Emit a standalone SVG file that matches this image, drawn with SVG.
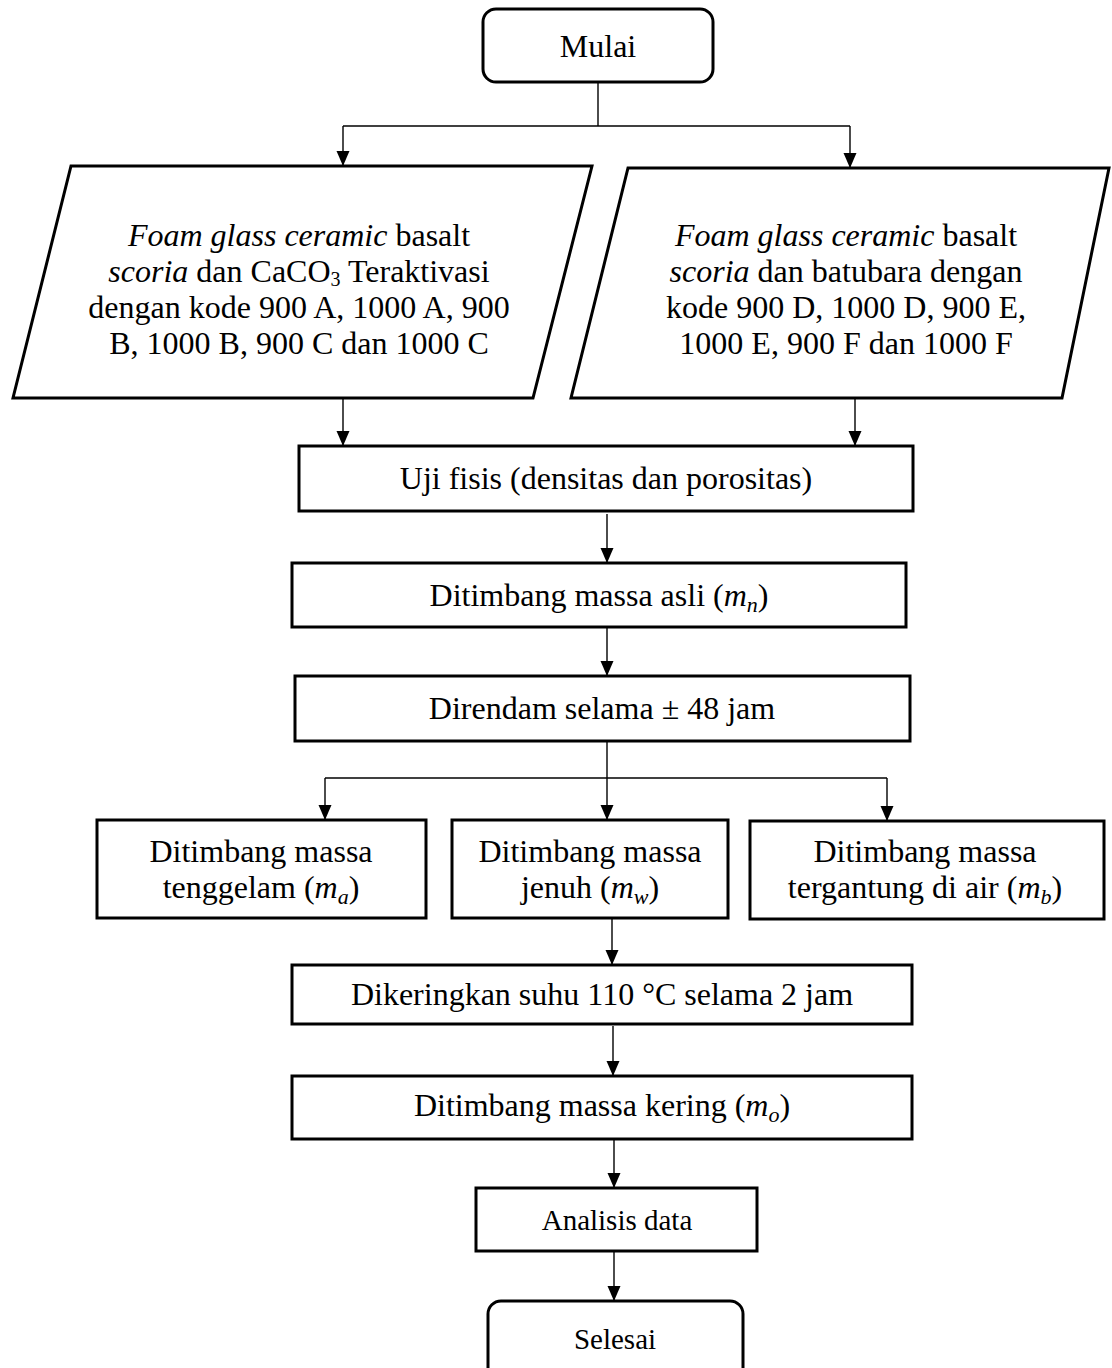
<svg xmlns="http://www.w3.org/2000/svg" width="1112" height="1368" viewBox="0 0 1112 1368">
<style>
  .shape { fill: #ffffff; stroke: #000000; stroke-width: 3; }
  .conn { fill: none; stroke: #000000; stroke-width: 1.4; }
  .t { font-family: "Liberation Serif", "Times New Roman", serif; font-size: 32px; fill: #000000; text-anchor: middle; }
  .ts { font-family: "Liberation Serif", "Times New Roman", serif; font-size: 29px; fill: #000000; text-anchor: middle; }
  .i { font-style: italic; }
</style>
<defs>
  <marker id="arrow" markerUnits="userSpaceOnUse" markerWidth="16" markerHeight="14" refX="15" refY="6.5" orient="auto">
    <path d="M0,0 L15,6.5 L0,13 z" fill="#000000"/>
  </marker>
</defs>
<rect width="1112" height="1368" fill="#ffffff"/>

<g id="connectors">
  <path class="conn" d="M598,82 V126"/>
  <path class="conn" d="M343,126 H850"/>
  <path class="conn" d="M343,126 V166" marker-end="url(#arrow)"/>
  <path class="conn" d="M850,126 V168" marker-end="url(#arrow)"/>
  <path class="conn" d="M343,398 V446" marker-end="url(#arrow)"/>
  <path class="conn" d="M855,398 V446" marker-end="url(#arrow)"/>
  <path class="conn" d="M607,514 V563" marker-end="url(#arrow)"/>
  <path class="conn" d="M607,627 V676" marker-end="url(#arrow)"/>
  <path class="conn" d="M607,741 V820" marker-end="url(#arrow)"/>
  <path class="conn" d="M325,778 H887"/>
  <path class="conn" d="M325,778 V820" marker-end="url(#arrow)"/>
  <path class="conn" d="M887,778 V821" marker-end="url(#arrow)"/>
  <path class="conn" d="M612,918 V965" marker-end="url(#arrow)"/>
  <path class="conn" d="M613,1026 V1076" marker-end="url(#arrow)"/>
  <path class="conn" d="M614,1139 V1188" marker-end="url(#arrow)"/>
  <path class="conn" d="M614,1251 V1301" marker-end="url(#arrow)"/>
</g>

<g id="mulai">
  <rect class="shape" x="483" y="9" width="230" height="73" rx="13"/>
  <text class="t" x="598" y="57">Mulai</text>
</g>

<g id="input-a">
  <polygon class="shape" points="71,166 592,166 533,398 13,398"/>
  <text class="t" x="299" y="246"><tspan class="i">Foam glass ceramic</tspan> basalt</text>
  <text class="t" x="299" y="282"><tspan class="i">scoria</tspan> dan CaCO<tspan font-size="20" dy="4">3</tspan><tspan dy="-4"> Teraktivasi</tspan></text>
  <text class="t" x="299" y="318">dengan kode 900 A, 1000 A, 900</text>
  <text class="t" x="299" y="354">B, 1000 B, 900 C dan 1000 C</text>
</g>

<g id="input-b">
  <polygon class="shape" points="628,168 1109,168 1062,398 571,398"/>
  <text class="t" x="846" y="246"><tspan class="i">Foam glass ceramic</tspan> basalt</text>
  <text class="t" x="846" y="282"><tspan class="i">scoria</tspan> dan batubara dengan</text>
  <text class="t" x="846" y="318">kode 900 D, 1000 D, 900 E,</text>
  <text class="t" x="846" y="354">1000 E, 900 F dan 1000 F</text>
</g>

<g id="uji-fisis">
  <rect class="shape" x="299" y="446" width="614" height="65"/>
  <text class="t" x="606" y="489">Uji fisis (densitas dan porositas)</text>
</g>

<g id="massa-asli">
  <rect class="shape" x="292" y="563" width="614" height="64"/>
  <text class="t" x="599" y="606">Ditimbang massa asli (<tspan class="i">m</tspan><tspan class="i" font-size="22" dy="6">n</tspan><tspan dy="-6">)</tspan></text>
</g>

<g id="direndam">
  <rect class="shape" x="295" y="676" width="615" height="65"/>
  <text class="t" x="602" y="719">Direndam selama ± 48 jam</text>
</g>

<g id="massa-tenggelam">
  <rect class="shape" x="97" y="820" width="329" height="98"/>
  <text class="t" x="261" y="862">Ditimbang massa</text>
  <text class="t" x="261" y="898">tenggelam (<tspan class="i">m</tspan><tspan class="i" font-size="22" dy="6">a</tspan><tspan dy="-6">)</tspan></text>
</g>

<g id="massa-jenuh">
  <rect class="shape" x="452" y="820" width="276" height="98"/>
  <text class="t" x="590" y="862">Ditimbang massa</text>
  <text class="t" x="590" y="898">jenuh (<tspan class="i">m</tspan><tspan class="i" font-size="22" dy="6">w</tspan><tspan dy="-6">)</tspan></text>
</g>

<g id="massa-tergantung">
  <rect class="shape" x="750" y="821" width="354" height="98"/>
  <text class="t" x="925" y="862">Ditimbang massa</text>
  <text class="t" x="925" y="898">tergantung di air (<tspan class="i">m</tspan><tspan class="i" font-size="22" dy="6">b</tspan><tspan dy="-6">)</tspan></text>
</g>

<g id="dikeringkan">
  <rect class="shape" x="292" y="965" width="620" height="59"/>
  <text class="t" x="602" y="1005">Dikeringkan suhu 110 °C selama 2 jam</text>
</g>

<g id="massa-kering">
  <rect class="shape" x="292" y="1076" width="620" height="63"/>
  <text class="t" x="602" y="1116">Ditimbang massa kering (<tspan class="i">m</tspan><tspan class="i" font-size="22" dy="6">o</tspan><tspan dy="-6">)</tspan></text>
</g>

<g id="analisis">
  <rect class="shape" x="476" y="1188" width="281" height="63"/>
  <text class="ts" x="617" y="1230">Analisis data</text>
</g>

<g id="selesai">
  <rect class="shape" x="488" y="1301" width="255" height="90" rx="13"/>
  <text class="ts" x="615" y="1349">Selesai</text>
</g>
</svg>
